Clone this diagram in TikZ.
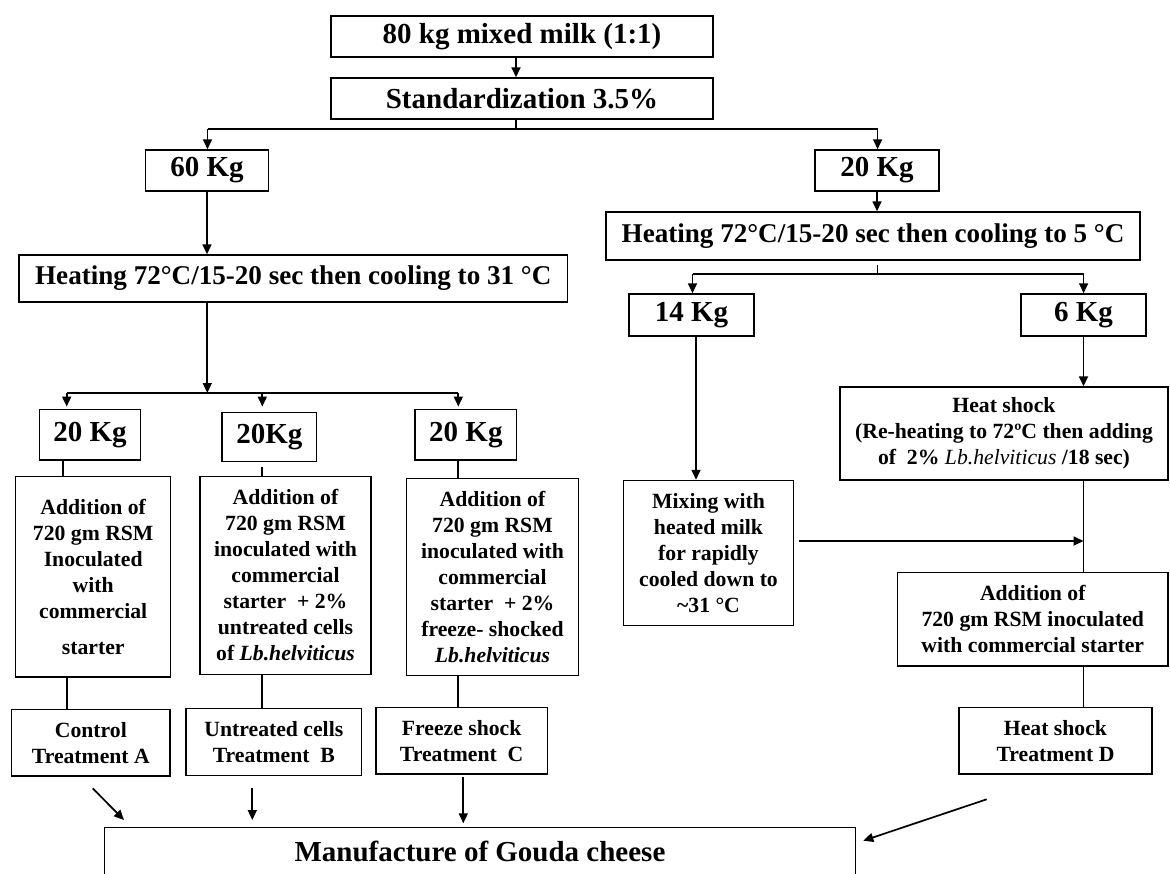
\documentclass[tikz,border=0pt]{standalone}
\usepackage{fontspec}
\setmainfont{Liberation Serif}
\usetikzlibrary{arrows.meta}
\newcommand\smallfnt{\bfseries\fontsize{21.7}{26}\selectfont}
\newcommand\bigfnt{\bfseries\fontsize{29}{34}\selectfont}
\newcommand\heatfnt{\bfseries\fontsize{27.1}{32}\selectfont}
\begin{document}
\begin{tikzpicture}[x=1pt,y=-1pt,
  box/.style={draw, line width=1.5pt, inner sep=0pt, align=center, font=\smallfnt},
  bigbox/.style={box, font=\bigfnt},
  heatbox/.style={box, font=\heatfnt},
  ln/.style={line width=1.7pt},
  arr/.style={line width=1.7pt, -{Triangle[length=10pt,width=9pt]}}]
\useasboundingbox (0,0) rectangle (1170,873);
\fill[white] (0,0) rectangle (1170,873);
\begin{scope}
\clip (0,0) rectangle (1170,873);
% top
\node[bigbox, minimum width=382pt, minimum height=41pt] (milk) at (522,36.5) {80 kg mixed milk (1:1)};
\node[bigbox, minimum width=382pt, minimum height=41pt] (std) at (522,98.5) {Standardization 3.5\%};
\node[bigbox, minimum width=123pt, minimum height=41pt] (kg60) at (207,170.5) {60 Kg};
\node[bigbox, minimum width=124pt, minimum height=41pt] (kgR) at (877,170.5) {20 Kg};
\node[heatbox, minimum width=548.5pt, minimum height=47pt] (heatL) at (293.25,278.5) {Heating 72°C/15-20 sec then cooling to 31 °C};
\node[heatbox, minimum width=534pt, minimum height=48pt] (heatR) at (873,236) {Heating 72°C/15-20 sec then cooling to 5 °C};
\node[bigbox, minimum width=125pt, minimum height=42pt] (kg14) at (691.5,315) {14 Kg};
\node[bigbox, minimum width=125pt, minimum height=42pt] (kg6) at (1083.5,315) {6 Kg};
% right column
\node[box, minimum width=170pt, minimum height=145pt] (mix) at (708.5,553)
  {Mixing with\\heated milk\\for rapidly\\cooled down to\\\textasciitilde31 °C};
\node[box, minimum width=328pt, minimum height=93pt] (hshock) at (1004,433.5)
  {Heat shock\\(Re-heating to 72ºC then adding\\of\ \ 2\% {\mdseries\itshape Lb.helviticus} /18 sec)};
\node[box, minimum width=270.5pt, minimum height=93.3pt] (addD) at (1032.75,619.35)
  {Addition of\\720 gm RSM inoculated\\with commercial starter};
\node[box, minimum width=193pt, minimum height=66.7pt] (trD) at (1055.5,740.65)
  {Heat shock\\Treatment D};
% left three columns
\node[bigbox, minimum width=101.4pt, minimum height=50.7pt] (kgA) at (90,434.65) {20 Kg};
\node[bigbox, minimum width=94.7pt, minimum height=49.4pt] (kgB) at (269.35,437) {20Kg};
\node[bigbox, minimum width=101.7pt, minimum height=50.7pt] (kgC) at (465.85,434.65) {20 Kg};
\node[box, minimum width=155pt, minimum height=200.3pt] (addA) at (93.2,576.85)
  {Addition of\\720 gm RSM\\Inoculated\\with\\commercial\\[10pt]starter};
\node[box, minimum width=171pt, minimum height=197.6pt] (addB) at (285.5,575.5)
  {Addition of\\720 gm RSM\\inoculated with\\commercial\\starter\ \ + 2\%\\untreated cells\\of \textit{Lb.helviticus}};
\node[box, minimum width=171.6pt, minimum height=197.4pt] (addC) at (492.5,577)
  {Addition of\\720 gm RSM\\inoculated with\\commercial\\starter\ \ + 2\%\\freeze- shocked\\\textit{Lb.helviticus}};
\node[box, minimum width=158.3pt, minimum height=66.7pt] (trA) at (90.85,742.65)
  {Control\\Treatment A};
\node[box, minimum width=175.7pt, minimum height=67pt] (trB) at (273.85,741.8)
  {Untreated cells\\Treatment\ \ B};
\node[box, minimum width=171.3pt, minimum height=66.7pt] (trC) at (461.65,740.65)
  {Freeze shock\\Treatment\ \ C};
\node[bigbox, minimum width=751.4pt, minimum height=48pt] (manuf) at (480,851.3)
  {Manufacture of Gouda cheese};
% connectors top
\coordinate (b1) at (516,129);
\coordinate (b1L) at (207.5,129);
\coordinate (b1R) at (877.6,129);
\draw[arr] (milk.south -| b1) -- (std.north -| b1);
\draw[ln] (std.south -| b1) -- (b1);
\draw[ln] (b1L) -- (b1R);
\draw[arr] (b1L) -- (kg60.north -| b1L);
\draw[arr] (b1R) -- (kgR.north -| b1R);
\draw[arr] (kg60.south) -- (kg60.south |- heatL.north);
\draw[arr] (kgR.south) -- (kgR.south |- heatR.north);
% left branch
\coordinate (b2) at (207.3,393);
\coordinate (b2A) at (66.7,393);
\coordinate (b2B) at (262.3,393);
\coordinate (b2C) at (458.3,393);
\draw[arr] (heatL.south -| b2) -- (b2);
\draw[ln] (b2A) -- (b2C);
\draw[arr, shorten >=2pt] (b2A) -- (b2A |- kgA.north);
\draw[arr, shorten >=5pt] (b2B) -- (b2B |- kgB.north);
\draw[arr, shorten >=2pt] (b2C) -- (b2C |- kgC.north);
\draw[ln] ([xshift=-27pt]kgA.south) -- ([xshift=-27pt]kgA.south |- addA.north);
\draw[ln] (addA.south -| b2A) -- (trA.north -| b2A);
\draw[ln] ([yshift=-4.3pt]kgB.south -| b2B) -- (addB.north -| b2B);
\draw[ln] (addB.south -| b2B) -- (trB.north -| b2B);
\draw[ln] (kgC.south -| b2C) -- (addC.north -| b2C);
\draw[ln] (addC.south -| b2C) -- (trC.north -| b2C);
% right branch
\coordinate (b3) at (877.6,274);
\coordinate (b3L) at (692.5,274);
\coordinate (b3R) at (1083.6,274);
\draw[ln] ([yshift=-4pt]heatR.south -| b3) -- (b3);
\draw[ln] (b3L) -- (b3R);
\draw[arr] (b3L) -- (b3L |- kg14.north);
\draw[arr] (b3R) -- (b3R |- kg6.north);
\draw[arr] ([xshift=4.5pt]kg14.south) -- ([xshift=4.5pt]kg14.south |- mix.north);
\draw[arr] (kg6.south) -- (kg6.south |- hshock.north);
\draw[ln] (hshock.south -| kg6.south) -- (addD.north -| kg6.south);
\draw[ln] (addD.south -| kg6.south) -- (trD.north -| kg6.south);
\coordinate (jm) at (1083.5,541);
\draw[arr] ([xshift=5pt]mix.east |- jm) -- (jm);
% to manufacture
\coordinate (sA) at (92.7,788.3);  \coordinate (eA) at (124,820);
\coordinate (sB) at (252.3,788.3); \coordinate (eB) at (252.3,820);
\coordinate (sC) at (463.3,776.7); \coordinate (eC) at (463.3,823.3);
\coordinate (sD) at (986.7,799.3); \coordinate (eD) at (863.3,840.7);
\draw[arr] (sA) -- (eA);
\draw[arr] (sB) -- (eB);
\draw[arr] (sC) -- (eC);
\draw[arr] (sD) -- (eD);
\end{scope}
\end{tikzpicture}
\end{document}
